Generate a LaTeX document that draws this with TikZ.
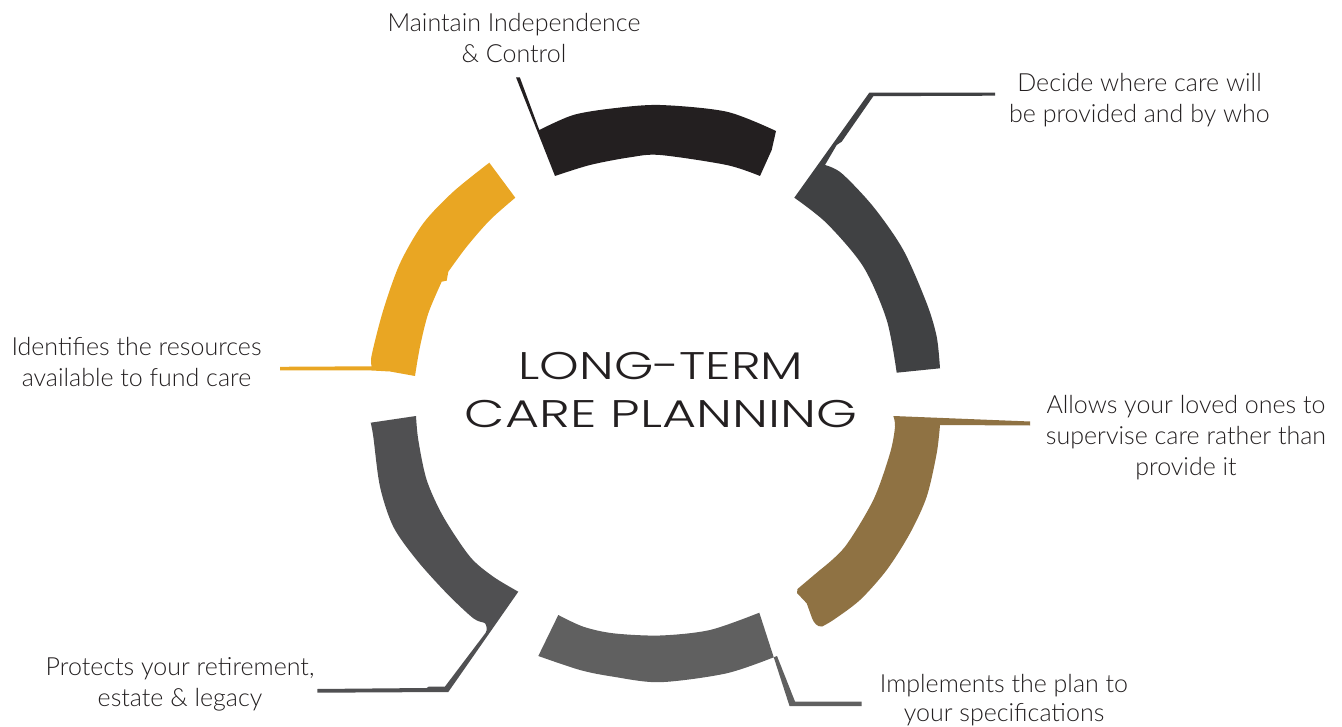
\documentclass[tikz,border=0pt]{standalone}
\usepackage{fontspec}
\newfontfamily\labelfont{Lato Light}
\newfontfamily\titlefont{Poppins Light}
\definecolor{segblack}{HTML}{231F20}
\definecolor{segdark}{HTML}{404143}
\definecolor{segyellow}{HTML}{E9A623}
\definecolor{segbrown}{HTML}{8F7243}
\definecolor{segmid}{HTML}{606060}
\definecolor{segleft}{HTML}{505052}
\definecolor{txt}{HTML}{231F20}
\tikzset{
  lbl/.style={inner sep=0pt, align=center, text=txt, font=\labelfont\fontsize{25}{31}\selectfont},
  ttl/.style={inner sep=0pt, align=center, text=txt, font=\titlefont\fontsize{38.5}{47.5}\selectfont}
}
\begin{document}
\begin{tikzpicture}[x=1pt,y=-1pt]
\useasboundingbox (0,0) rectangle (1342,727);
% top black segment with leader
\fill[segblack] (516,77.3) -- (519.8,77.3) -- (539.3,130)
  -- plot[smooth] coordinates {(539.3,130) (573.3,115) (613.3,108.3) (660,105) (726.7,111.7) (776,131)}
  -- (771.7,150) -- (760,176)
  -- plot[smooth] coordinates {(760,176) (726.7,165) (660,155) (630,157.3) (590,165) (555,176)}
  -- cycle;
% right dark segment with leader
\fill[segdark] (995,92.7) -- (869.3,92.7) -- (794.3,197.7)
  -- plot[smooth] coordinates {(794.3,197.7) (826.7,223.3) (863.3,266.7) (886.7,320) (896.7,372.7)}
  -- (940,368.3)
  -- plot[smooth] coordinates {(940,368.3) (936.7,336.7) (926.7,303.3) (903.3,250) (873.3,206.7) (841.7,173.3) (825,165)}
  -- (836.7,145) -- (841.7,141.7) -- (873.3,96.2) -- (995,95.7) -- cycle;
% yellow segment with leader
\fill[segyellow] (489.3,162.7) -- (515.3,197.7)
  -- plot[smooth] coordinates {(515.3,197.7) (490,220) (466.7,246.7) (448.3,271.7)}
  -- (446.7,280.7) -- (441.7,281.7)
  -- plot[smooth] coordinates {(441.7,281.7) (428.3,313.3) (420,346.7) (415,376)}
  -- (390,371.5) -- (371.7,370.5) -- (280,370.5) -- (280,366.8) -- (371.7,366.3)
  -- plot[smooth] coordinates {(371.7,366.3) (371.7,355) (383.3,310) (400,263.3) (423.3,223.3) (453.3,191.7) (489.3,162.7)}
  -- cycle;
% bottom-left segment with leader
\fill[segleft] (370.7,422.7) -- (416,416)
  -- plot[smooth] coordinates {(416,416) (418.3,440) (426.7,480) (443.3,516.7) (470,556.7) (493.3,576.7) (518.3,591.7)}
  -- (448.3,692) -- (317.3,692.7) -- (317.3,689) -- (426.7,688) -- (429,686.5) -- (445,686.5) -- (485.5,633)
  -- plot[smooth] coordinates {(486.7,630) (485,623.3) (473.3,618.3) (446.7,593.3) (416.7,560) (393.3,526.7) (380,486.7) (373.3,436.7) (370.7,422.7)}
  -- cycle;
% bottom segment with leader
\fill[segmid] (558.3,615) -- (538.3,656)
  -- plot[smooth] coordinates {(538.3,656) (580,670) (613.3,676.7) (660,682.2) (726.7,673.3) (777,656)}
  -- (795,701.5) -- (861.7,701.5) -- (861.7,706) -- (789.5,706) -- (759.3,612.7)
  -- plot[smooth] coordinates {(759.3,612.7) (710,630) (660,635.5) (613.3,633.3) (583.3,626.7) (558.3,615)}
  -- cycle;
% brown segment with leader
\fill[segbrown] (893.3,416) -- (1030,421.5) -- (1030,425.5) -- (940,425)
  -- plot[smooth] coordinates {(940,425) (936.7,453.3) (926.7,496.7) (910,533.3) (886.7,570) (860,600) (833.3,620) (822,626.5)}
  .. controls (817,627) and (814,623) .. (812,618) -- (806.7,603.3) -- (797,593) -- (797.5,589) -- (820,570)
  -- plot[smooth] coordinates {(820,570) (845,546.7) (873.3,500) (890,453.3) (895,426.7) (893.3,416)}
  -- cycle;
% labels
\node[ttl] (title) at (661,390) {\scalebox{1.31}[1]{LONG-TERM}\\\scalebox{1.36}[1]{CARE PLANNING}};
\node[lbl] (indep) at (514,38) {Maintain Independence\\\& Control};
\node[lbl] (decide) at (1139.5,100) {Decide where care will\\be provided and by who};
\node[lbl] (ident) at (136.5,362.5) {Identifies the resources\\available to fund care};
\node[lbl] (allows) at (1186,437.5) {Allows your loved ones to\\supervise care rather than\\provide it};
\node[lbl] (protect) at (180,684) {Protects your retirement,\\estate \& legacy};
\node[lbl, font=\labelfont\fontsize{25}{29}\selectfont] (implem) at (1004,700.5) {Implements the plan to\\your specifications};
\end{tikzpicture}
\end{document}
